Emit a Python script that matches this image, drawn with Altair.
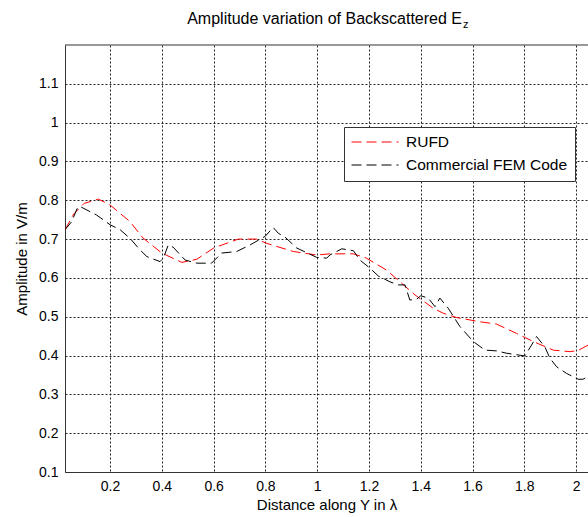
import altair as alt
import pandas as pd

# RUFD (red, smooth)
rufd_x = [0.026, 0.06, 0.1, 0.155, 0.2, 0.277, 0.327, 0.4, 0.477, 0.535, 0.6, 0.695, 0.766,
          0.805, 0.908, 0.998, 1.049, 1.14, 1.19, 1.268, 1.32, 1.378, 1.448, 1.487, 1.538,
          1.629, 1.693, 1.77, 1.835, 1.912, 1.976, 2.008, 2.046]
rufd_y = [0.724, 0.765, 0.792, 0.803, 0.788, 0.745, 0.703, 0.664, 0.640, 0.648, 0.677, 0.700, 0.700,
          0.689, 0.668, 0.659, 0.662, 0.662, 0.651, 0.620, 0.590, 0.556, 0.522, 0.509, 0.498,
          0.487, 0.481, 0.457, 0.436, 0.414, 0.410, 0.413, 0.427]

# Commercial FEM Code (black, jagged)
fem_x = [0.026, 0.052, 0.075, 0.084, 0.148, 0.2, 0.239, 0.277, 0.316, 0.342, 0.393, 0.406, 0.425,
         0.444, 0.49, 0.535, 0.592, 0.631, 0.689, 0.741, 0.799, 0.83, 0.85, 0.876, 0.921, 0.998,
         1.037, 1.049, 1.095, 1.14, 1.165, 1.204, 1.236, 1.281, 1.313, 1.339, 1.358, 1.384, 1.4,
         1.429, 1.455, 1.474, 1.506, 1.551, 1.603, 1.648, 1.693, 1.731, 1.802, 1.828, 1.847, 1.879,
         1.899, 1.925, 1.963, 2.008, 2.027, 2.046]
fem_y = [0.724, 0.745, 0.782, 0.784, 0.762, 0.737, 0.724, 0.702, 0.672, 0.655, 0.642, 0.651, 0.685,
         0.679, 0.646, 0.638, 0.638, 0.664, 0.668, 0.685, 0.707, 0.730, 0.715, 0.705, 0.677, 0.653,
         0.651, 0.659, 0.675, 0.670, 0.646, 0.625, 0.605, 0.590, 0.582, 0.582, 0.543, 0.545, 0.554,
         0.548, 0.526, 0.548, 0.522, 0.475, 0.436, 0.414, 0.412, 0.406, 0.399, 0.427, 0.449, 0.423,
         0.393, 0.371, 0.354, 0.339, 0.339, 0.346]

series_names = ["RUFD", "Commercial FEM Code"]
x_ticks = [0.2, 0.4, 0.6, 0.8, 1.0, 1.2, 1.4, 1.6, 1.8, 2.0]
y_ticks = [0.1, 0.2, 0.3, 0.4, 0.5, 0.6, 0.7, 0.8, 0.9, 1.0, 1.1]

df = pd.concat([
    pd.DataFrame({"x": rufd_x, "y": rufd_y, "series": series_names[0], "order": range(len(rufd_x))}),
    pd.DataFrame({"x": fem_x, "y": fem_y, "series": series_names[1], "order": range(len(fem_x))}),
])

FONT = "Liberation Sans"
W, H = 523, 427

xscale = alt.Scale(domain=[0.026, 2.046], nice=False, zero=False)
yscale = alt.Scale(domain=[0.1, 1.2], nice=False, zero=False)

lines = alt.Chart(df).mark_line(strokeWidth=1, strokeDash=[10, 5], clip=True).encode(
    x=alt.X("x:Q", scale=xscale,
            axis=alt.Axis(title="Distance along Y in λ", values=x_ticks,
                          labelExpr="format(datum.value, '.1~f')")),
    y=alt.Y("y:Q", scale=yscale,
            axis=alt.Axis(title="Amplitude in V/m", values=y_ticks,
                          labelExpr="format(datum.value, '.1~f')")),
    color=alt.Color("series:N", sort=series_names,
                    scale=alt.Scale(domain=series_names, range=["#ff0000", "#000000"]),
                    legend=alt.Legend(title=None, orient="none", legendX=279, legendY=82,
                                      symbolType="stroke", symbolSize=2209,
                                      symbolStrokeWidth=1, symbolDash=[10, 5],
                                      clipHeight=16, labelOffset=7,
                                      labelFontSize=15.5, labelFont=FONT, labelColor="#000",
                                      strokeColor="#333", fillColor="white",
                                      padding=7, rowPadding=6, labelLimit=300)),
    order="order:Q",
)

top_border = alt.Chart(pd.DataFrame({"a": [0]})).mark_rule(color="#333", strokeWidth=1).encode(
    x=alt.value(0), x2=alt.value(W), y=alt.value(0)
)

title_main = alt.Chart(pd.DataFrame({"t": ["Amplitude variation of Backscattered E"]})).mark_text(
    font=FONT, fontSize=16, align="right", baseline="alphabetic", color="#000", clip=False
).encode(text="t:N", x=alt.value(397), y=alt.value(-21))

title_sub = alt.Chart(pd.DataFrame({"t": ["z"]})).mark_text(
    font=FONT, fontSize=11, align="left", baseline="alphabetic", color="#000", clip=False
).encode(text="t:N", x=alt.value(398), y=alt.value(-17))

chart = alt.layer(lines, top_border, title_main, title_sub).properties(
    width=W, height=H,
    autosize=alt.AutoSizeParams(type="none"),
    padding={"left": 65, "top": 45, "right": 0, "bottom": 45},
).configure_view(stroke=None).configure_axis(
    labelFont=FONT, labelFontSize=14, labelColor="#000",
    titleFont=FONT, titleFontSize=15, titleFontWeight="normal", titleColor="#000",
    grid=True, gridColor="#222", gridDash=[2, 2], gridOpacity=1, gridWidth=1,
    domainColor="#333", domainWidth=1, tickSize=0, labelPadding=8,
).configure_axisY(titlePadding=9, labelPadding=7).configure_axisX(titlePadding=4, labelPadding=7)

chart.save("out.html", embed_options={"renderer": "svg", "actions": False})
